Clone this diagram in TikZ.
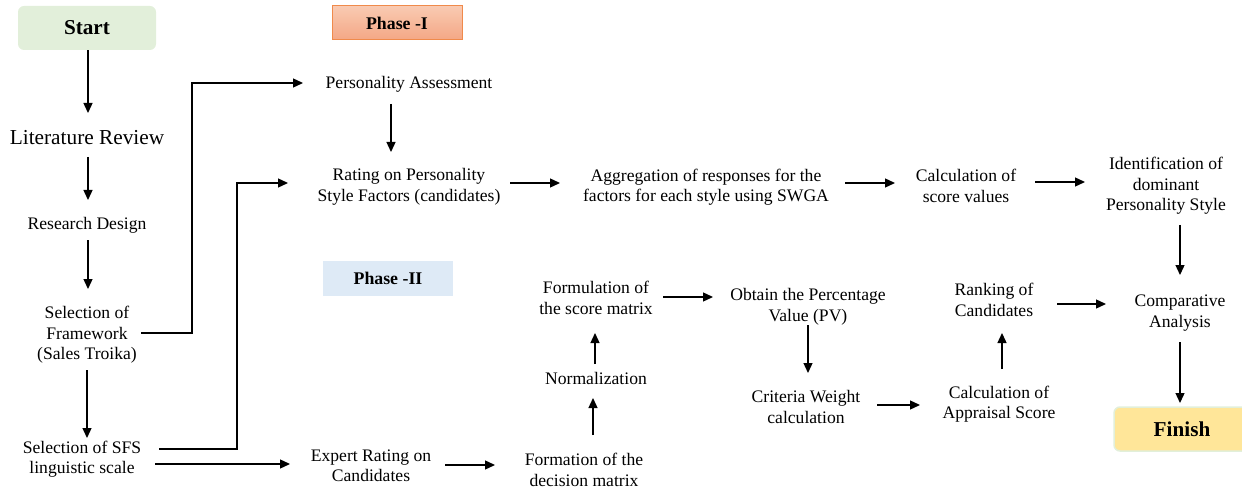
\documentclass[tikz,border=0pt]{standalone}
\usepackage{fontspec}
\setmainfont{Liberation Serif}
\usetikzlibrary{arrows.meta,calc}
\definecolor{startgreen}{HTML}{E2EFDA}
\definecolor{finishyel}{HTML}{FFE699}
\definecolor{ph1top}{HTML}{F9CAB2}
\definecolor{ph1bot}{HTML}{F4A785}
\definecolor{ph1border}{HTML}{F08A4B}
\definecolor{ph2blue}{HTML}{DEEAF6}
\tikzset{
  txt/.style={align=center, font=\fontsize{17.6}{20.5}\selectfont, inner sep=0pt},
  arr/.style={line width=1.3pt, -{Triangle[length=10pt,width=9pt]}},
}
\begin{document}
\begin{tikzpicture}[x=1pt,y=-1pt]
\useasboundingbox (0,0) rectangle (1242,489);
% boxes
\node[fill=startgreen, rounded corners=6pt, minimum width=138pt, minimum height=44pt, inner sep=0pt,
      font=\fontsize{21.2}{24}\selectfont\bfseries] (start) at (87,28) {Start};
\node[top color=ph1top, bottom color=ph1bot, draw=ph1border, line width=1pt, minimum width=130pt, minimum height=34pt, inner sep=0pt,
      font=\fontsize{17.8}{20}\selectfont\bfseries] (phase1) at (397,23) {Phase -I};
\node[fill=ph2blue, minimum width=130pt, minimum height=35pt, inner sep=0pt,
      font=\fontsize{17.8}{20}\selectfont\bfseries] (phase2) at (388,278) {Phase -II};
\node[fill=finishyel, draw=startgreen, line width=1.5pt, rounded corners=6pt, minimum width=136pt, minimum height=44pt, inner sep=0pt,
      font=\fontsize{21.2}{24}\selectfont\bfseries] (finish) at (1182,429) {Finish};
% text nodes
\node[txt, font=\fontsize{21.3}{24}\selectfont] (lit) at (87,138) {Literature Review};
\node[txt] (rd) at (87,225) {Research Design};
\node[txt] (fw) at (87,335) {Selection of\\Framework\\(Sales Troika)};
\node[txt] (sfs) at (82,459) {Selection of SFS\\linguistic scale};
\node[txt] (pa) at (409,84) {Personality Assessment};
\node[txt] (rating) at (409,187) {Rating on Personality\\Style Factors (candidates)};
\node[txt] (expert) at (371,466) {Expert Rating on\\Candidates};
\node[txt] (agg) at (706,187) {Aggregation of responses for the\\factors for each style using SWGA};
\node[txt] (calc) at (966,186) {Calculation of\\score values};
\node[txt] (ident) at (1166,186) {Identification of\\dominant\\Personality Style};
\node[txt] (form) at (596,298) {Formulation of\\the score matrix};
\node[txt] (norm) at (596,378) {Normalization};
\node[txt] (decision) at (584,470) {Formation of the\\decision matrix};
\node[txt] (pv) at (808,307) {Obtain the Percentage\\Value (PV)};
\node[txt] (cw) at (806,407) {Criteria Weight\\calculation};
\node[txt] (rank) at (994,300) {Ranking of\\Candidates};
\node[txt] (appr) at (999,404) {Calculation of\\Appraisal Score};
\node[txt] (comp) at (1180,313) {Comparative\\Analysis};
% junction coordinates
\coordinate (j1) at (192,0);
\coordinate (j2) at (237,0);
\coordinate (fwOut) at ([yshift=2pt]fw.center);
\coordinate (paIn) at ([yshift=1pt]pa.center);
\coordinate (sfsHi) at ([yshift=10pt]sfs.center);
\coordinate (sfsLo) at ([yshift=-5pt]sfs.center);
\coordinate (rIn) at ([yshift=4pt]rating.center);
% connectors
\draw[arr, shorten >=25pt] ([xshift=1pt]start.south) -- ([xshift=1pt]lit.center);
\draw[arr, shorten <=19pt, shorten >=25pt] ([xshift=1pt]lit.center) -- ([xshift=1pt]rd.center);
\draw[arr, shorten <=15pt, shorten >=46pt] ([xshift=1pt]rd.center) -- ([xshift=1pt]fw.center);
\draw[arr, shorten <=35pt, shorten >=21pt] (fw.center) -- (fw.center |- sfs.center);
\draw[arr, shorten <=54pt, shorten >=106pt] (fwOut) -- (fwOut -| j1) -- (j1 |- paIn) -- (paIn);
\draw[arr, shorten <=77pt, shorten >=121pt] (sfsHi) -- (sfsHi -| j2) -- (j2 |- rIn) -- (rIn);
\draw[arr, shorten <=73pt, shorten >=81pt] (sfsLo) -- (sfsLo -| expert.center);
\draw[arr, shorten <=20pt, shorten >=35pt] ([xshift=-18pt]pa.center) -- ([xshift=-18pt]pa.center |- rating.center);
\draw[arr, shorten <=101pt, shorten >=146pt] ([yshift=4pt]rating.center) -- ([yshift=4pt]rating.center -| agg.center);
\draw[arr, shorten <=139pt, shorten >=71pt] ([yshift=4pt]agg.center) -- ([yshift=4pt]agg.center -| calc.center);
\draw[arr, shorten <=69pt, shorten >=81pt] ([yshift=4pt]calc.center) -- ([yshift=4pt]calc.center -| ident.center);
\draw[arr, shorten <=39pt, shorten >=38pt] (ident.center -| comp.center) -- (comp.center);
\draw[arr, shorten <=74pt, shorten >=89pt] ([yshift=1pt]expert.center) -- ([yshift=1pt]expert.center -| decision.center);
\draw[arr, shorten <=35pt, shorten >=20pt] ([xshift=-3pt]decision.center -| norm.center) -- ([xshift=-3pt]norm.center);
\draw[arr, shorten <=14pt, shorten >=35pt] ([xshift=-1pt]norm.center) -- ([xshift=-1pt]form.center);
\draw[arr, shorten <=67pt, shorten >=95pt] ([yshift=1pt]form.center) -- ([yshift=1pt]form.center -| pv.center);
\draw[arr, shorten <=18pt, shorten >=34pt] (pv.center) -- (pv.center |- cw.center);
\draw[arr, shorten <=71pt, shorten >=79pt] ([yshift=2pt]cw.center) -- ([yshift=2pt]cw.center -| appr.center);
\draw[arr, shorten <=35pt, shorten >=33pt] ([xshift=3pt]appr.center) -- ([xshift=3pt]appr.center |- rank.center);
\draw[arr, shorten <=63pt, shorten >=74pt] ([yshift=-4pt]rank.center) -- ([yshift=-4pt]rank.center -| comp.center);
\draw[arr, shorten <=29pt, shorten >=26pt] (comp.center) -- (comp.center |- finish.center);
\end{tikzpicture}
\end{document}
